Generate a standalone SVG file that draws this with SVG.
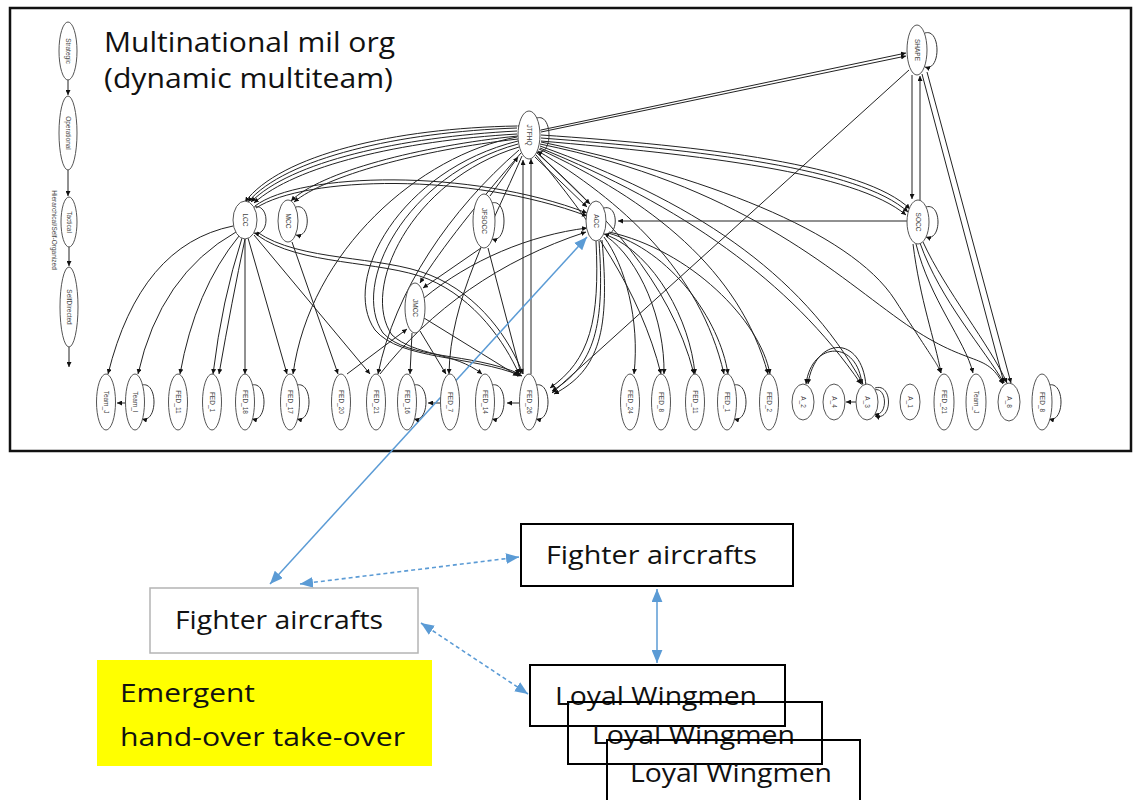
<svg xmlns="http://www.w3.org/2000/svg" width="1134" height="800" viewBox="0 0 1134 800">
<style>
.n{fill:#fff;stroke:#555;stroke-width:1}
.nl{font-family:"Liberation Sans",Arial,sans-serif;font-size:6.5px;fill:#444;text-anchor:middle;dominant-baseline:central}
.e{fill:none;stroke:#222;stroke-width:1;marker-end:url(#ah)}
.lp{fill:none;stroke:#333;stroke-width:1;marker-end:url(#ah)}
.b{fill:none;stroke:#5b9bd5;stroke-width:1.5;marker-start:url(#bh);marker-end:url(#bh)}
.bd{fill:none;stroke:#5b9bd5;stroke-width:1.6;stroke-dasharray:4 3;marker-start:url(#bh);marker-end:url(#bh)}
.big{font-family:"Open Sans","Liberation Sans",sans-serif;fill:#111}
.box{fill:none;stroke:#000;stroke-width:2}
</style>
<defs>
<marker id="ah" viewBox="0 0 6 6" refX="6" refY="3" markerWidth="5" markerHeight="5" markerUnits="userSpaceOnUse" orient="auto"><path d="M0,0L6,3L0,6z" fill="#111"/></marker>
<marker id="bh" viewBox="0 0 12 10" refX="12" refY="5" markerWidth="13" markerHeight="11" markerUnits="userSpaceOnUse" orient="auto-start-reverse"><path d="M0,0L12,5L0,10z" fill="#5b9bd5"/></marker>
</defs>
<rect width="1134" height="800" fill="#fff"/>
<rect x="10" y="8" width="1121" height="443" fill="none" stroke="#111" stroke-width="2.5"/>
<text class="big" x="104" y="52" font-size="27" fill="#333" textLength="291" lengthAdjust="spacingAndGlyphs">Multinational mil org</text>
<text class="big" x="104" y="88" font-size="27" fill="#333" textLength="289" lengthAdjust="spacingAndGlyphs">(dynamic multiteam)</text>
<text class="nl" transform="translate(54,230) rotate(90)" font-size="5">Hierarchical/Self-Organized</text>

<g id="connectors">
<!-- left column -->
<path class="e" d="M68,80L68,95"/>
<path class="e" d="M68,170L68,196"/>
<path class="e" d="M69,247L69,266"/>
<path class="e" d="M69,347L69,367"/>
<!-- JTFHQ - SHAPE -->
<path class="e" d="M541,130L906,53" marker-start="url(#ah)"/>
<path class="e" d="M541,132L906,56"/>
<!-- JTFHQ -> SOCC -->
<path class="e" d="M541,135C705,146 865,165 910,209"/>
<path class="e" d="M541,138C700,150 860,168 908,212"/>
<path class="e" d="M541,141C700,155 855,172 906,215"/>
<!-- SHAPE - SOCC -->
<path class="e" d="M912,75L912,199"/>
<path class="e" d="M920,201L920,76"/>
<!-- SHAPE -> A_8 -->
<path class="e" d="M922,74L1004,383"/>
<path class="e" d="M927,72L1011,383"/>
<!-- SHAPE -> FED_26 -->
<path class="e" d="M909,70L552,393"/>
<!-- SOCC -> ACC -->
<path class="e" d="M907,221L618,221"/>
<!-- SOCC -> bottom -->
<path class="e" d="M913,244C920,300 935,340 941,373"/>
<path class="e" d="M916,244C930,300 965,340 973,373"/>
<path class="e" d="M920,243C940,300 985,350 1004,383"/>
<path class="e" d="M923,242C945,290 990,345 1007,383"/>
<!-- JTFHQ fan right -->
<path class="e" d="M541,142C700,175 850,230 895,300S935,360 941,373"/>
<path class="e" d="M540,144C740,185 830,270 900,320S985,350 1003,384"/>
<path class="e" d="M540,146C690,200 800,270 863,384"/>
<path class="e" d="M540,148C680,205 790,280 861,384"/>
<path class="e" d="M539,149C650,200 740,270 768,374"/>
<path class="e" d="M538,151C620,200 700,270 724,374"/>
<path class="e" d="M537,153C600,210 670,280 694,374"/>
<path class="e" d="M536,155C590,220 640,290 661,374"/>
<!-- JTFHQ -> ACC -->
<path class="e" d="M535,157L587,207"/>
<path class="e" d="M539,154L590,204"/>
<!-- ACC fan -->
<path class="e" d="M604,237C625,265 640,320 634,374"/>
<path class="e" d="M606,236C640,260 665,320 664,374"/>
<path class="e" d="M607,235C655,255 690,320 695,374"/>
<path class="e" d="M608,233C670,250 720,320 728,374"/>
<path class="e" d="M609,232C690,250 760,320 770,374"/>
<!-- ACC -> FED_26 loops -->
<path class="e" d="M596,241C600,320 590,360 550,388"/>
<path class="e" d="M599,241C605,325 595,365 552,391"/>
<path class="e" d="M602,240C610,330 600,370 554,394"/>
<!-- JTFHQ - LCC -->
<path class="e" d="M517,126C395,128 280,155 245,202" marker-start="url(#ah)"/>
<path class="e" d="M517,128C400,132 285,158 248,202"/>
<path class="e" d="M517,131C400,137 290,162 251,202"/>
<path class="e" d="M517,134C400,141 295,166 254,203"/>
<!-- JTFHQ -> MCC -->
<path class="e" d="M518,136C420,146 320,172 291,201"/>
<path class="e" d="M518,139C420,150 325,176 294,202"/>
<!-- LCC -> ACC -->
<path class="e" d="M255,206C300,172 470,168 587,213"/>
<path class="e" d="M256,208C305,176 470,172 587,216"/>
<!-- LCC -> FED_26 -->
<path class="e" d="M257,232C300,262 380,255 430,275C480,295 510,340 523,374"/>
<path class="e" d="M257,235C300,266 380,260 428,279C476,299 505,343 519,374"/>
<!-- LCC fan -->
<path class="e" d="M233,226Q140,245 108,374"/>
<path class="e" d="M236,232Q160,275 138,374"/>
<path class="e" d="M239,236Q195,290 180,374"/>
<path class="e" d="M242,238Q222,300 213,374"/>
<path class="e" d="M245,239Q232,300 219,374"/>
<path class="e" d="M245,239L245,374"/>
<path class="e" d="M248,238L287,374"/>
<path class="e" d="M254,235L370,374"/>
<!-- MCC -> FED_20 -->
<path class="e" d="M292,242L338,374"/>
<!-- JTFHQ -> left/bottom -->
<path class="e" d="M517,137C420,155 310,250 293,374"/>
<path class="e" d="M518,141C400,170 340,280 375,330C400,360 470,355 522,376"/>
<path class="e" d="M518,144C405,175 350,285 383,333C408,360 470,352 520,374"/>
<path class="e" d="M519,147C410,180 360,290 392,335C415,356 455,352 482,374"/>
<path class="e" d="M521,153C480,200 440,250 420,283"/>
<path class="e" d="M522,156C490,230 450,300 449,374"/>
<path class="e" d="M519,150C450,210 395,290 378,374"/>
<!-- FED_26 -> JTFHQ -->
<path class="e" d="M523,374L523,160"/>
<path class="e" d="M531,374L531,159"/>
<!-- JFSOCC -->
<path class="e" d="M490,196L518,157"/>
<path class="e" d="M481,248L423,288"/>
<path class="e" d="M488,248L521,374"/>
<!-- to ACC from left -->
<path class="e" d="M424,298C470,260 530,235 587,228"/>
<path class="e" d="M380,374C430,310 500,260 586,232"/>
<!-- JMCC -->
<path class="e" d="M347,374L407,329"/>
<path class="e" d="M412,333L410,374"/>
<path class="e" d="M420,331L446,374"/>
<path class="e" d="M424,318L518,376"/>
<!-- short arrows -->
<path class="e" d="M125,403L117,403"/>
<path class="e" d="M441,403L428,403"/>
<path class="e" d="M519,403L507,403"/>
<path class="e" d="M857,402L846,402"/>
<!-- A_3 -> A_2 arc -->
<path class="e" d="M862,385C858,340 812,340 806,384"/>
<path class="e" d="M866,386C862,334 815,336 808,384"/>
<!-- blue connectors -->
<path class="b" d="M270,584L587,237"/>
<path class="bd" d="M300,584L519,557"/>
<path class="bd" d="M421,623L528,694"/>
<path class="b" d="M657,589L657,663"/>
</g>

<!-- left column nodes -->
<g id="n-strategic"><ellipse class="n" cx="68" cy="51" rx="9" ry="29"/><text class="nl" transform="translate(68,51) rotate(90)">Strategic</text></g>
<g id="n-operational"><ellipse class="n" cx="68" cy="133" rx="9" ry="37"/><text class="nl" transform="translate(68,133) rotate(90)">Operational</text></g>
<g id="n-tactical"><ellipse class="n" cx="69" cy="222" rx="8" ry="25"/><text class="nl" transform="translate(69,222) rotate(90)">Tactical</text></g>
<g id="n-selfdirected"><ellipse class="n" cx="69" cy="307" rx="9" ry="40"/><text class="nl" transform="translate(69,307) rotate(90)">SelfDirected</text></g>

<!-- top nodes -->
<g id="n-jtfhq"><path class="lp" d="M537,118C553,113 553,157 537,152"/><ellipse class="n" cx="529" cy="135" rx="11" ry="24"/><text class="nl" transform="translate(529,135) rotate(90)">JTFHQ</text></g>
<g id="n-shape"><path class="lp" d="M925,33C941,28 941,72 925,67"/><ellipse class="n" cx="917" cy="50" rx="10" ry="25"/><text class="nl" transform="translate(917,50) rotate(90)">SHAPE</text></g>
<g id="n-lcc"><path class="lp" d="M254,207C270,203 270,237 254,233"/><ellipse class="n" cx="245" cy="220" rx="12" ry="19"/><text class="nl" transform="translate(245,220) rotate(90)">LCC</text></g>
<g id="n-mcc"><path class="lp" d="M296,207C311,203 311,239 296,235"/><ellipse class="n" cx="288" cy="221" rx="10" ry="21"/><text class="nl" transform="translate(288,221) rotate(90)">MCC</text></g>
<g id="n-jfsocc"><path class="lp" d="M492,203C508,198 508,244 492,239"/><ellipse class="n" cx="484" cy="221" rx="11" ry="27"/><text class="nl" transform="translate(484,221) rotate(90)">JFSOCC</text></g>
<g id="n-jmcc"><ellipse class="n" cx="415" cy="308" rx="10" ry="25"/><text class="nl" transform="translate(415,308) rotate(90)">JMCC</text></g>
<g id="n-acc"><path class="lp" d="M604,208C619,204 619,238 604,234"/><ellipse class="n" cx="596" cy="221" rx="10" ry="20"/><text class="nl" transform="translate(596,221) rotate(90)">ACC</text></g>
<g id="n-socc"><path class="lp" d="M926,207C942,202 942,242 926,237"/><ellipse class="n" cx="918" cy="222" rx="11" ry="22"/><text class="nl" transform="translate(918,222) rotate(90)">SOCC</text></g>

<!-- bottom row nodes -->
<g id="b01"><ellipse class="n" cx="106" cy="402" rx="9.5" ry="28"/><text class="nl" transform="translate(106,402) rotate(90)">Team_J</text></g>
<g id="b02"><path class="lp" d="M142,385C158,381 158,423 142,419"/><ellipse class="n" cx="135" cy="402" rx="9.5" ry="28"/><text class="nl" transform="translate(135,402) rotate(90)">Team_I</text></g>
<g id="b03"><ellipse class="n" cx="178" cy="402" rx="9.5" ry="28"/><text class="nl" transform="translate(178,402) rotate(90)">FED_11</text></g>
<g id="b04"><ellipse class="n" cx="212" cy="402" rx="9.5" ry="28"/><text class="nl" transform="translate(212,402) rotate(90)">FED_1</text></g>
<g id="b05"><path class="lp" d="M252,385C268,381 268,423 252,419"/><ellipse class="n" cx="245" cy="402" rx="9.5" ry="28"/><text class="nl" transform="translate(245,402) rotate(90)">FED_18</text></g>
<g id="b06"><path class="lp" d="M297,385C313,381 313,423 297,419"/><ellipse class="n" cx="290" cy="402" rx="9.5" ry="28"/><text class="nl" transform="translate(290,402) rotate(90)">FED_17</text></g>
<g id="b07"><ellipse class="n" cx="341" cy="402" rx="9.5" ry="28"/><text class="nl" transform="translate(341,402) rotate(90)">FED_20</text></g>
<g id="b08"><ellipse class="n" cx="376" cy="402" rx="9.5" ry="28"/><text class="nl" transform="translate(376,402) rotate(90)">FED_21</text></g>
<g id="b09"><path class="lp" d="M414,385C430,381 430,423 414,419"/><ellipse class="n" cx="407" cy="402" rx="9.5" ry="28"/><text class="nl" transform="translate(407,402) rotate(90)">FED_16</text></g>
<g id="b10"><ellipse class="n" cx="450" cy="402" rx="9.5" ry="28"/><text class="nl" transform="translate(450,402) rotate(90)">FED_7</text></g>
<g id="b11"><path class="lp" d="M492,385C508,381 508,423 492,419"/><ellipse class="n" cx="485" cy="402" rx="9.5" ry="28"/><text class="nl" transform="translate(485,402) rotate(90)">FED_14</text></g>
<g id="b12"><path class="lp" d="M536,385C552,381 552,423 536,419"/><ellipse class="n" cx="529" cy="402" rx="9.5" ry="28"/><text class="nl" transform="translate(529,402) rotate(90)">FED_26</text></g>
<g id="b13"><ellipse class="n" cx="630" cy="402" rx="9.5" ry="28"/><text class="nl" transform="translate(630,402) rotate(90)">FED_24</text></g>
<g id="b14"><ellipse class="n" cx="661" cy="402" rx="9.5" ry="28"/><text class="nl" transform="translate(661,402) rotate(90)">FED_8</text></g>
<g id="b15"><ellipse class="n" cx="695" cy="402" rx="9.5" ry="28"/><text class="nl" transform="translate(695,402) rotate(90)">FED_11</text></g>
<g id="b16"><path class="lp" d="M734,385C750,381 750,423 734,419"/><ellipse class="n" cx="727" cy="402" rx="9.5" ry="28"/><text class="nl" transform="translate(727,402) rotate(90)">FED_1</text></g>
<g id="b17"><ellipse class="n" cx="769" cy="402" rx="9.5" ry="28"/><text class="nl" transform="translate(769,402) rotate(90)">FED_2</text></g>
<g id="b18"><ellipse class="n" cx="803" cy="402" rx="11" ry="18"/><text class="nl" transform="translate(803,402) rotate(90)">A_2</text></g>
<g id="b19"><ellipse class="n" cx="834" cy="402" rx="11" ry="18"/><text class="nl" transform="translate(834,402) rotate(90)">A_4</text></g>
<g id="b20"><path class="lp" d="M874,390C888,386 888,418 874,414"/><path class="lp" d="M875,388C893,382 893,422 875,416"/><ellipse class="n" cx="867" cy="402" rx="11" ry="18"/><text class="nl" transform="translate(867,402) rotate(90)">A_3</text></g>
<g id="b21"><ellipse class="n" cx="910" cy="402" rx="10" ry="18"/><text class="nl" transform="translate(910,402) rotate(90)">A_1</text></g>
<g id="b22"><ellipse class="n" cx="944" cy="402" rx="10" ry="28"/><text class="nl" transform="translate(944,402) rotate(90)">FED_21</text></g>
<g id="b23"><ellipse class="n" cx="976" cy="402" rx="10" ry="28"/><text class="nl" transform="translate(976,402) rotate(90)">Team_J</text></g>
<g id="b24"><ellipse class="n" cx="1009" cy="402" rx="11" ry="19"/><text class="nl" transform="translate(1009,402) rotate(90)">A_8</text></g>
<g id="b25"><path class="lp" d="M1049,385C1065,381 1065,423 1049,419"/><ellipse class="n" cx="1042" cy="402" rx="10" ry="28"/><text class="nl" transform="translate(1042,402) rotate(90)">FED_8</text></g>

<!-- bottom section -->
<g id="fighter-left"><rect x="150" y="588" width="268" height="65" fill="#fff" stroke="#b4b4b4" stroke-width="1.5"/><text class="big" x="175" y="629" font-size="25" textLength="208" lengthAdjust="spacingAndGlyphs">Fighter aircrafts</text></g>
<g id="emergent"><rect x="97" y="660" width="335" height="106" fill="#ffff00"/><text class="big" x="120" y="702" font-size="26" textLength="135" lengthAdjust="spacingAndGlyphs">Emergent</text><text class="big" x="120" y="746" font-size="26" textLength="285" lengthAdjust="spacingAndGlyphs">hand-over take-over</text></g>
<g id="fighter-right"><rect class="box" x="521" y="524" width="272" height="62" fill="#fff"/><text class="big" x="546" y="564" font-size="25" textLength="211" lengthAdjust="spacingAndGlyphs">Fighter aircrafts</text></g>
<g id="wingmen-1"><rect class="box" x="530" y="665" width="255" height="61"/><text class="big" x="555" y="705" font-size="25" textLength="202" lengthAdjust="spacingAndGlyphs">Loyal Wingmen</text></g>
<g id="wingmen-2"><rect class="box" x="568" y="702" width="254" height="62"/><text class="big" x="592" y="744" font-size="25" textLength="203" lengthAdjust="spacingAndGlyphs">Loyal Wingmen</text></g>
<g id="wingmen-3"><rect class="box" x="607" y="740" width="253" height="70"/><text class="big" x="630" y="782" font-size="25" textLength="202" lengthAdjust="spacingAndGlyphs">Loyal Wingmen</text></g>
</svg>
